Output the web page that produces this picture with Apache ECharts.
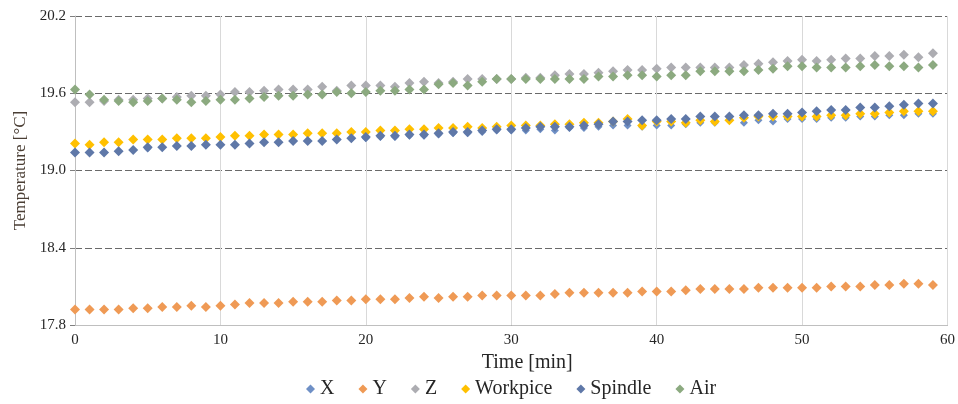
<!DOCTYPE html>
<html>
<head>
<meta charset="utf-8">
<script src="https://cdn.jsdelivr.net/npm/echarts@6/dist/echarts.min.js"></script>
<style>
  html, body { margin: 0; padding: 0; background: #fff; }
  #chart { width: 958px; height: 404px; }
</style>
</head>
<body>
<div id="chart"></div>
<script>
// time in minutes, one reading per minute
const minutes = Array.from({ length: 60 }, (_, i) => i)

const xAxisTemp = [19.14, 19.14, 19.14, 19.15, 19.16, 19.17, 19.18, 19.19, 19.19, 19.20,
  19.20, 19.20, 19.21, 19.22, 19.22, 19.23, 19.23, 19.23, 19.24, 19.25,
  19.25, 19.26, 19.26, 19.27, 19.27, 19.28, 19.29, 19.29, 19.30, 19.31,
  19.31, 19.31, 19.32, 19.31, 19.33, 19.33, 19.34, 19.35, 19.35, 19.34,
  19.35, 19.35, 19.36, 19.37, 19.37, 19.39, 19.37, 19.39, 19.38, 19.40,
  19.40, 19.40, 19.41, 19.41, 19.42, 19.42, 19.43, 19.43, 19.44, 19.44]

const yAxisTemp = [17.92, 17.92, 17.92, 17.92, 17.93, 17.93, 17.94, 17.94, 17.95, 17.94,
  17.95, 17.96, 17.97, 17.97, 17.97, 17.98, 17.98, 17.98, 17.99, 17.99,
  18.00, 18.00, 18.00, 18.01, 18.02, 18.01, 18.02, 18.02, 18.03, 18.03,
  18.03, 18.03, 18.03, 18.04, 18.05, 18.05, 18.05, 18.05, 18.05, 18.06,
  18.06, 18.06, 18.07, 18.08, 18.08, 18.08, 18.08, 18.09, 18.09, 18.09,
  18.09, 18.09, 18.10, 18.10, 18.10, 18.11, 18.11, 18.12, 18.12, 18.11]

const zAxisTemp = [19.53, 19.53, 19.54, 19.55, 19.55, 19.56, 19.56, 19.57, 19.58, 19.58,
  19.59, 19.61, 19.61, 19.62, 19.63, 19.63, 19.63, 19.65, 19.62, 19.66,
  19.66, 19.66, 19.65, 19.68, 19.69, 19.68, 19.69, 19.71, 19.71, 19.71,
  19.71, 19.72, 19.72, 19.74, 19.75, 19.75, 19.76, 19.77, 19.78, 19.78,
  19.79, 19.80, 19.80, 19.80, 19.80, 19.80, 19.82, 19.83, 19.84, 19.85,
  19.86, 19.85, 19.86, 19.87, 19.87, 19.89, 19.89, 19.90, 19.88, 19.91]

const workpiceTemp = [19.21, 19.20, 19.22, 19.22, 19.24, 19.24, 19.24, 19.25, 19.25, 19.25,
  19.26, 19.27, 19.27, 19.28, 19.28, 19.28, 19.29, 19.29, 19.29, 19.30,
  19.30, 19.31, 19.31, 19.32, 19.32, 19.33, 19.33, 19.34, 19.33, 19.34,
  19.35, 19.35, 19.35, 19.36, 19.36, 19.37, 19.37, 19.38, 19.40, 19.35,
  19.38, 19.38, 19.37, 19.39, 19.38, 19.39, 19.41, 19.42, 19.42, 19.42,
  19.42, 19.42, 19.43, 19.43, 19.44, 19.44, 19.45, 19.46, 19.46, 19.46]

const spindleTemp = [19.14, 19.14, 19.14, 19.15, 19.16, 19.18, 19.18, 19.19, 19.19, 19.20,
  19.20, 19.20, 19.21, 19.22, 19.22, 19.23, 19.23, 19.23, 19.24, 19.25,
  19.26, 19.27, 19.27, 19.28, 19.28, 19.29, 19.30, 19.30, 19.31, 19.32,
  19.32, 19.33, 19.34, 19.34, 19.34, 19.35, 19.36, 19.38, 19.38, 19.39,
  19.39, 19.40, 19.40, 19.42, 19.42, 19.42, 19.43, 19.43, 19.44, 19.44,
  19.45, 19.46, 19.47, 19.47, 19.49, 19.49, 19.50, 19.51, 19.52, 19.52]

const airTemp = [19.63, 19.59, 19.55, 19.54, 19.53, 19.54, 19.56, 19.55, 19.53, 19.54,
  19.55, 19.55, 19.56, 19.57, 19.58, 19.58, 19.59, 19.59, 19.61, 19.60,
  19.61, 19.62, 19.62, 19.63, 19.63, 19.67, 19.68, 19.66, 19.69, 19.71,
  19.71, 19.71, 19.71, 19.71, 19.71, 19.71, 19.73, 19.73, 19.74, 19.74,
  19.73, 19.74, 19.74, 19.77, 19.77, 19.77, 19.77, 19.78, 19.79, 19.81,
  19.81, 19.80, 19.80, 19.80, 19.81, 19.82, 19.81, 19.81, 19.80, 19.82]

const yTicks = [17.8, 18.4, 19.0, 19.6, 20.2]

// Series colors
const colors = {
  x: '#6f90c6',
  y: '#ef9a55',
  z: '#adadb2',
  workpice: '#ffc000',
  spindle: '#5f78a8',
  air: '#8caa80'
}

const font = '"Liberation Serif", "Times New Roman", serif'

const makeSeries = (name, values, color, size) => ({
  name: name,
  type: 'scatter',
  symbol: 'diamond',
  symbolSize: size,
  data: minutes.map((t, i) => [t, values[i]]),
  itemStyle: { color: color, opacity: 1 },
  emphasis: { disabled: true },
  animation: false
})

const chart = echarts.init(document.getElementById('chart'))

const option = {
  backgroundColor: '#fff',
  grid: {
    left: 75,
    right: 10,
    top: 16,
    bottom: 79,
    containLabel: false
  },
  legend: {
    bottom: 0,
    left: 301,
    icon: 'diamond',
    itemWidth: 9,
    itemHeight: 9,
    itemGap: 24,
    textStyle: { fontFamily: font, fontSize: 20, color: '#262626' },
    data: ['X', 'Y', 'Z', 'Workpice', 'Spindle', 'Air']
  },
  xAxis: {
    type: 'value',
    min: 0,
    max: 60,
    interval: 10,
    name: 'Time [min]',
    nameLocation: 'middle',
    nameGap: 22,
    nameTextStyle: { fontFamily: font, fontSize: 20, color: '#262626', padding: [0, 0, 0, 32] },
    axisLine: { show: true, lineStyle: { color: '#bfbfbf' } },
    axisTick: { show: false },
    axisLabel: { fontFamily: font, fontSize: 15, color: '#262626', margin: 8 },
    splitLine: { show: true, lineStyle: { color: '#d9d9d9', width: 1 } }
  },
  yAxis: {
    type: 'value',
    min: yTicks[0],
    max: yTicks[yTicks.length - 1],
    interval: 0.6,
    name: 'Temperature [°C]',
    nameLocation: 'middle',
    nameGap: 46,
    nameTextStyle: { fontFamily: font, fontSize: 17, color: '#4a3e34' },
    axisLine: { show: true, lineStyle: { color: '#bfbfbf' } },
    axisTick: { show: true, length: 5, lineStyle: { color: '#7f7f7f' } },
    axisLabel: {
      fontFamily: font,
      fontSize: 15,
      color: '#262626',
      margin: 9,
      formatter: v => v.toFixed(1)
    },
    splitLine: { show: true, lineStyle: { color: '#6a6a6a', width: 1, type: [7, 3] } }
  },
  series: [
    makeSeries('X', xAxisTemp, colors.x, 8),
    makeSeries('Y', yAxisTemp, colors.y, 10),
    makeSeries('Z', zAxisTemp, colors.z, 10),
    makeSeries('Workpice', workpiceTemp, colors.workpice, 10),
    makeSeries('Spindle', spindleTemp, colors.spindle, 10),
    makeSeries('Air', airTemp, colors.air, 10)
  ],
  animation: false
}

chart.setOption(option)
</script>
</body>
</html>
